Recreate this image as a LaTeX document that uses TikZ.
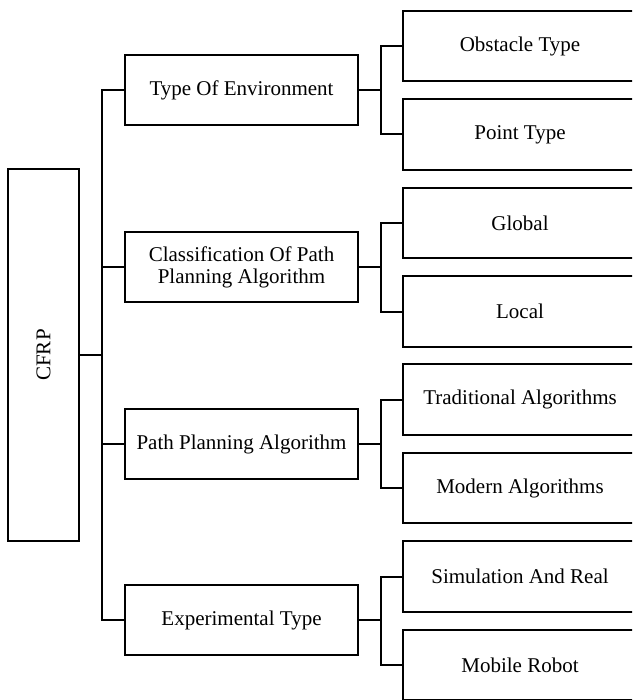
\documentclass[tikz,border=0pt]{standalone}
\usepackage{fontspec}
\setmainfont{Liberation Serif}
\begin{document}
\begin{tikzpicture}[x=1pt,y=-1pt,
  every node/.style={font=\fontsize{21}{22}\selectfont},
  box/.style={draw,line width=2pt,rectangle,inner sep=0pt,align=center},
  midbox/.style={box,minimum width=233pt,minimum height=70pt},
  leafbox/.style={box,minimum width=234pt,minimum height=70.5pt},
  link/.style={line width=2pt}]
\useasboundingbox (0,0) rectangle (632,700);
\clip (0,0) rectangle (632,700);

% root
\node[box,minimum width=71pt,minimum height=372pt] (cfrp) at (43.5,355) {};
\node[rotate=90] (cfrplabel) at (cfrp.center) {CFRP};

% second level
\node[midbox] (env) at (241.5,90) {Type Of Environment};
\node[midbox] (cls) at (241.5,267) {Classification Of Path\\Planning Algorithm};
\node[midbox] (ppa) at (241.5,444) {Path Planning Algorithm};
\node[midbox] (exp) at (241.5,620) {Experimental Type};

% leaves
\node[leafbox] (obs) at (520,46)    {Obstacle Type};
\node[leafbox] (pnt) at (520,134.5) {Point Type};
\node[leafbox] (glo) at (520,223)   {Global};
\node[leafbox] (loc) at (520,311.5) {Local};
\node[leafbox] (tra) at (520,399.5) {Traditional Algorithms};
\node[leafbox] (mod) at (520,488)   {Modern Algorithms};
\node[leafbox] (sim) at (520,576.5) {Simulation And Real};
\node[leafbox] (mob) at (520,665)   {Mobile Robot};

% root to second level
\coordinate (spine) at (102,355);
\draw[link] (cfrp.east) -- (spine);
\draw[link] (env.west) -| (spine) |- (exp.west);
\draw[link] (cls.west) -- (cls.west -| spine);
\draw[link] (ppa.west) -- (ppa.west -| spine);

% second level to leaves
\draw[link] (env.east) -- ++(22,0) coordinate (j1);
\draw[link] (obs.west) -| (j1) |- (pnt.west);
\draw[link] (cls.east) -- ++(22,0) coordinate (j2);
\draw[link] (glo.west) -| (j2) |- (loc.west);
\draw[link] (ppa.east) -- ++(22,0) coordinate (j3);
\draw[link] (tra.west) -| (j3) |- (mod.west);
\draw[link] (exp.east) -- ++(22,0) coordinate (j4);
\draw[link] (sim.west) -| (j4) |- (mob.west);
\end{tikzpicture}
\end{document}
